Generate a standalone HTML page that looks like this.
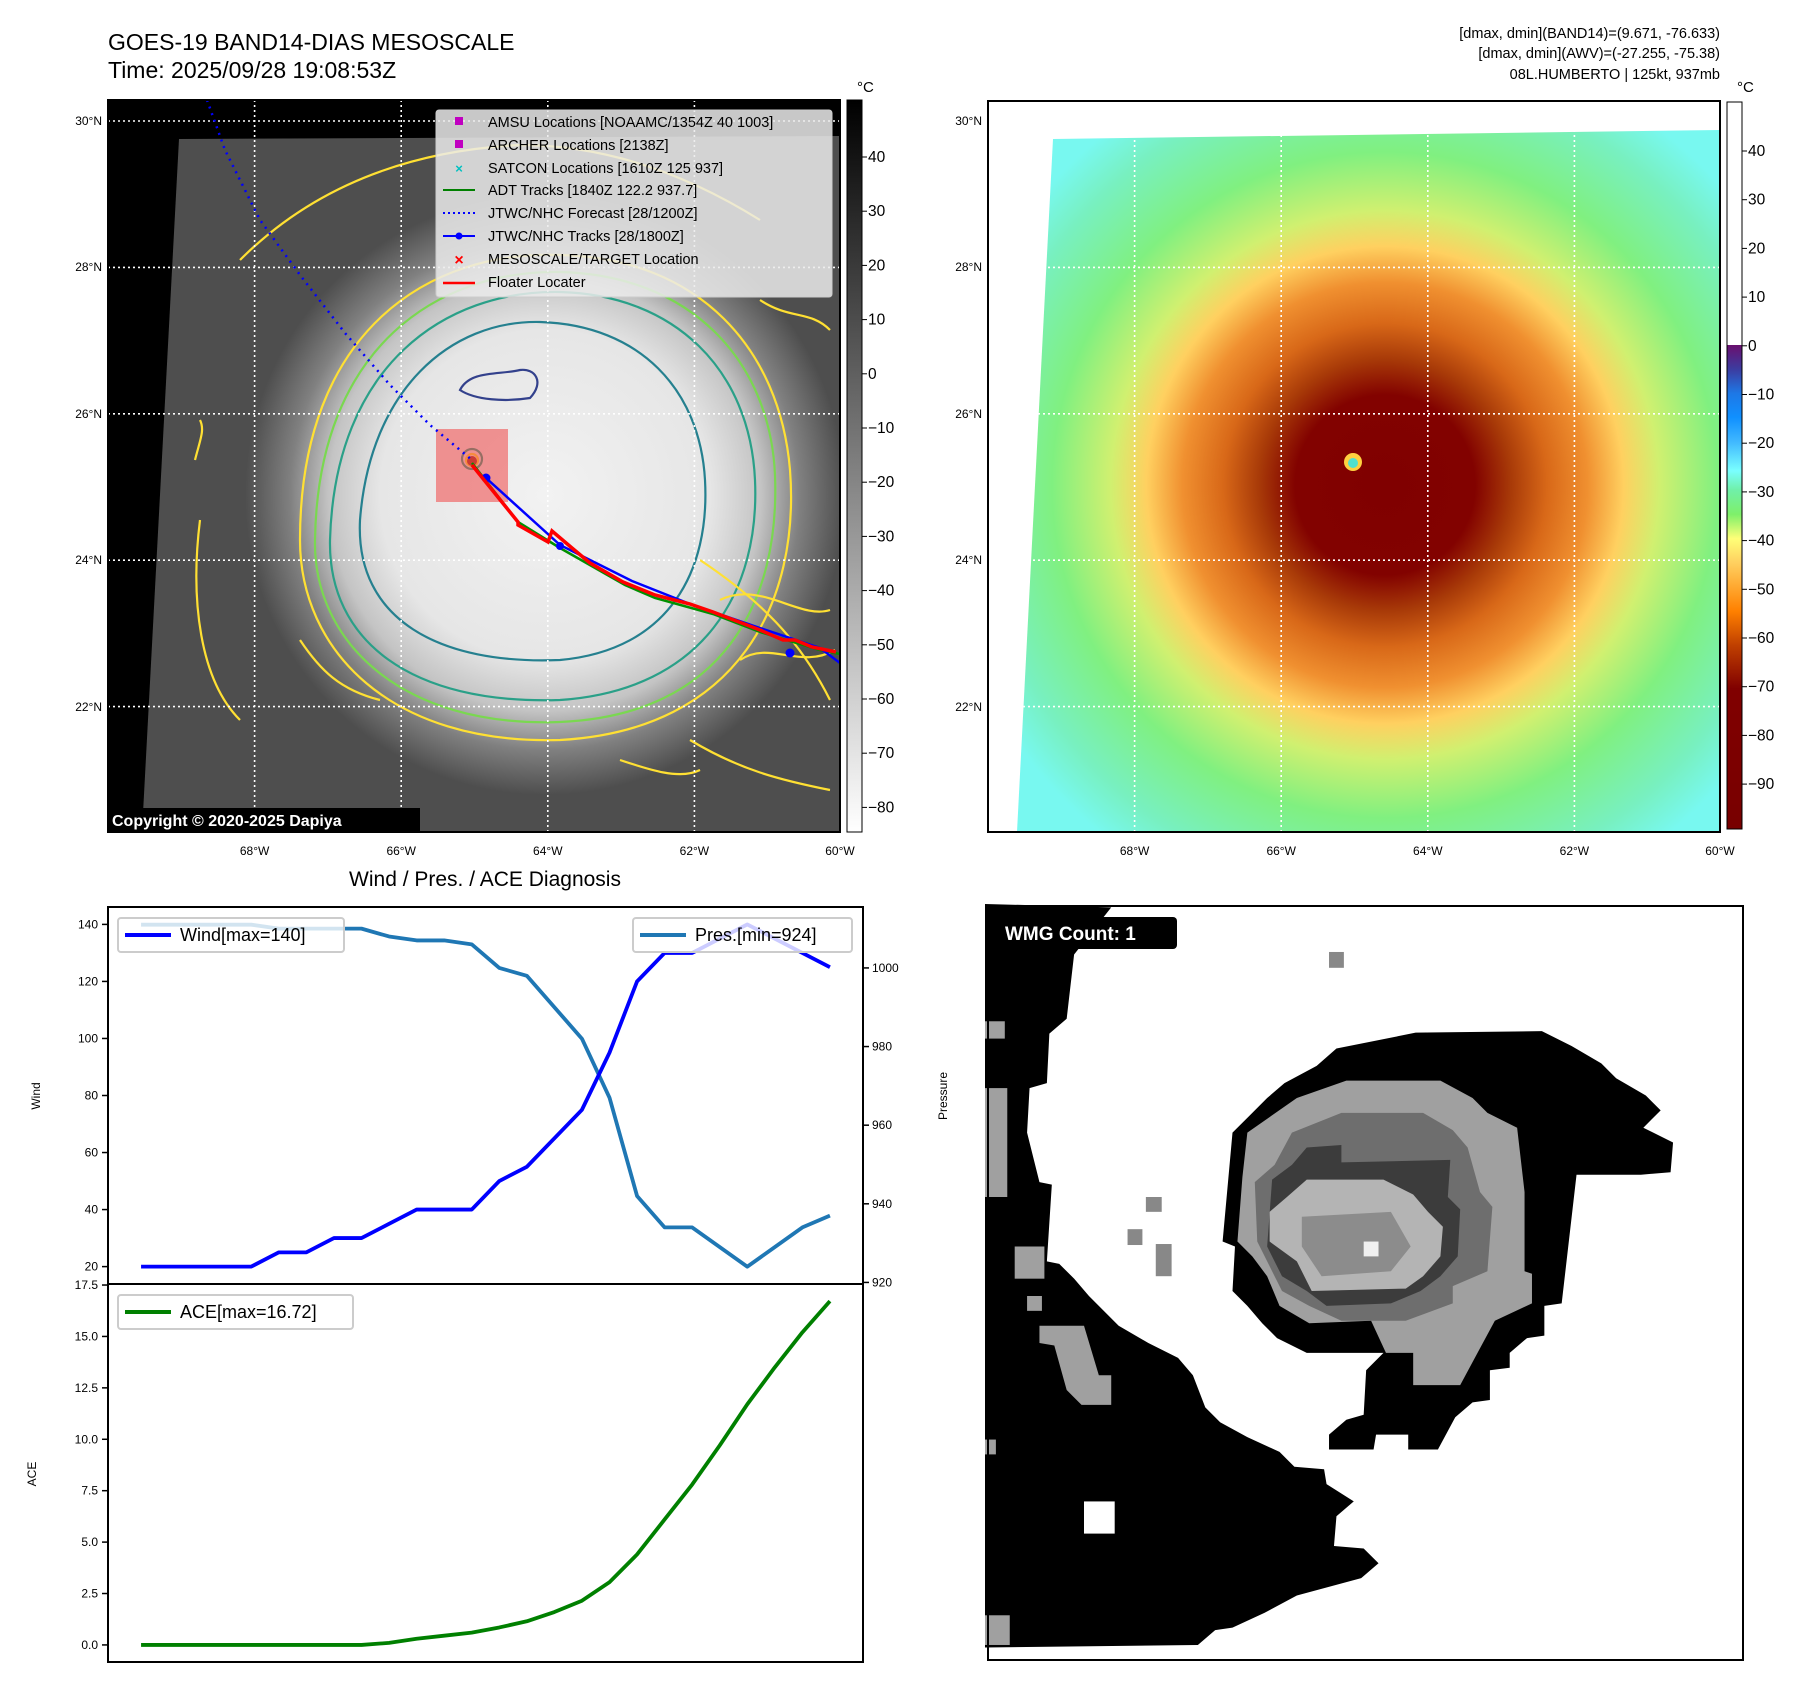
<!DOCTYPE html>
<html><head><meta charset="utf-8"><style>
html,body{margin:0;padding:0;background:#fff;}
svg{display:block;font-family:"Liberation Sans","DejaVu Sans",sans-serif;}
</style></head><body>
<svg id="root" xmlns="http://www.w3.org/2000/svg" width="1801" height="1690" viewBox="0 0 1801 1690">
<defs>
  <radialGradient id="cloudGray" cx="545" cy="495" r="300" gradientUnits="userSpaceOnUse">
    <stop offset="0" stop-color="#f2f2f2"/><stop offset="0.55" stop-color="#e6e6e6"/>
    <stop offset="0.72" stop-color="#c4c4c4"/><stop offset="0.85" stop-color="#808080"/>
    <stop offset="1" stop-color="#4e4e4e"/>
  </radialGradient>
  <radialGradient id="cloudColor" cx="1385" cy="485" r="450" gradientUnits="userSpaceOnUse">
    <stop offset="0" stop-color="#800000"/><stop offset="0.2" stop-color="#820200"/>
    <stop offset="0.28" stop-color="#a83a08"/><stop offset="0.36" stop-color="#d86818"/>
    <stop offset="0.45" stop-color="#f09030"/><stop offset="0.53" stop-color="#ffd060"/>
    <stop offset="0.61" stop-color="#d0f070"/><stop offset="0.74" stop-color="#80f080"/>
    <stop offset="0.9" stop-color="#78f0c0"/><stop offset="1" stop-color="#78f8f0"/>
  </radialGradient>
  <linearGradient id="grayBar" x1="0" y1="0" x2="0" y2="1">
    <stop offset="0" stop-color="#000"/><stop offset="1" stop-color="#fff"/>
  </linearGradient>
  <linearGradient id="colBar" x1="0" y1="345" x2="0" y2="829" gradientUnits="userSpaceOnUse">
    <stop offset="0" stop-color="#6a0f6e"/><stop offset="0.05" stop-color="#3c3ca0"/>
    <stop offset="0.1" stop-color="#1e78e6"/><stop offset="0.15" stop-color="#1090ff"/>
    <stop offset="0.2" stop-color="#40b8ff"/><stop offset="0.26" stop-color="#7affff"/>
    <stop offset="0.3" stop-color="#70f0a8"/><stop offset="0.35" stop-color="#7ef06a"/>
    <stop offset="0.4" stop-color="#ffff78"/><stop offset="0.45" stop-color="#ffd060"/>
    <stop offset="0.55" stop-color="#ff8000"/><stop offset="0.62" stop-color="#c04000"/>
    <stop offset="0.71" stop-color="#800000"/><stop offset="1" stop-color="#780000"/>
  </linearGradient>
</defs>

<text x="108" y="50" font-size="23">GOES-19 BAND14-DIAS MESOSCALE</text>
<text x="108" y="78" font-size="23">Time: 2025/09/28 19:08:53Z</text>
<g font-size="14.5" text-anchor="end">
  <text x="1720" y="38">[dmax, dmin](BAND14)=(9.671, -76.633)</text>
  <text x="1720" y="58">[dmax, dmin](AWV)=(-27.255, -75.38)</text>
  <text x="1720" y="79">08L.HUMBERTO | 125kt, 937mb</text>
</g>

<g>
  <clipPath id="clipL"><rect x="108" y="100" width="732" height="732"/></clipPath>
  <rect x="108" y="100" width="732" height="732" fill="#000"/>
  <g clip-path="url(#clipL)">
    <polygon points="179,139 840,136 840,832 142,832" fill="url(#cloudGray)"/>
    <g fill="none" stroke-width="2.2">
      <path d="M300,540 C300,330 430,250 560,255 C700,258 780,350 790,470 C800,600 740,730 560,740 C390,745 300,650 300,540 Z" stroke="#ffe033"/>
      <path d="M315,540 C318,345 440,270 560,272 C690,275 770,360 775,475 C780,600 725,715 560,722 C400,728 313,640 315,540 Z" stroke="#7ad850"/>
      <path d="M330,540 C335,365 445,290 560,292 C675,295 750,370 755,480 C760,590 705,690 560,700 C410,705 328,640 330,540 Z" stroke="#2aa088"/>
      <path d="M360,520 C370,390 450,320 540,322 C640,325 700,390 705,480 C710,570 670,650 560,660 C440,665 355,620 360,520 Z" stroke="#25808f"/>
      <path d="M460,390 C470,370 500,375 520,370 C535,368 545,382 530,398 C505,402 475,400 460,390 Z" stroke="#33418c"/>
      <circle cx="472" cy="459" r="10" stroke="#2aa088"/>
      <circle cx="472" cy="460" r="6" stroke="#ffe033"/>
      <path d="M240,260 C320,180 420,150 520,145 C600,145 680,170 760,220" stroke="#ffe033"/>
      <path d="M700,560 C760,600 800,640 830,700 M690,740 C740,770 780,780 830,790" stroke="#ffe033"/>
      <path d="M200,520 C190,600 200,680 240,720" stroke="#ffe033"/>
      <path d="M720,600 C760,580 800,620 830,610 M740,660 C770,640 800,670 835,650 M300,640 C320,670 340,690 380,700 M620,760 C650,770 680,780 700,770" stroke="#ffe033"/>
      <path d="M195,460 C200,440 205,430 200,420 M760,300 C790,320 810,310 830,330" stroke="#ffe033"/>
    </g>
    <circle cx="472" cy="461" r="5" fill="#a03020"/>
    <rect x="436" y="429" width="72" height="73" fill="rgba(240,70,70,0.55)"/>
    <g stroke="#fff" stroke-width="1.6" stroke-dasharray="2,3">
      <line x1="254.6" y1="100" x2="254.6" y2="832"/><line x1="401.2" y1="100" x2="401.2" y2="832"/>
      <line x1="547.8" y1="100" x2="547.8" y2="832"/><line x1="694.4" y1="100" x2="694.4" y2="832"/>
      <line x1="108" y1="121" x2="840" y2="121"/><line x1="108" y1="267.4" x2="840" y2="267.4"/>
      <line x1="108" y1="413.8" x2="840" y2="413.8"/><line x1="108" y1="560.2" x2="840" y2="560.2"/>
      <line x1="108" y1="706.6" x2="840" y2="706.6"/>
    </g>
    <polyline points="207,100 225,150 260,220 300,275 345,333 390,385 430,425 472,460" fill="none" stroke="#0000ff" stroke-width="2.5" stroke-dasharray="2,5"/>
    <polyline points="472,463 518,522 560,548 625,585 655,598 713,614 760,632 820,650 840,654" fill="none" stroke="#009000" stroke-width="2.5"/>
    <polyline points="486,478 560,545 632,581 690,604 760,628 820,648 840,663" fill="none" stroke="#0000ff" stroke-width="2.5"/>
    <circle cx="486" cy="478" r="4.5" fill="#0000ff"/><circle cx="560" cy="546" r="4" fill="#0000ff"/><circle cx="790" cy="653" r="4.5" fill="#0000ff"/>
    <polyline points="472,465 518,522 518,525 548,542 552,531 572,548 590,563 623,582 655,595 690,604 713,612 760,630 783,640 795,640 812,647 836,652" fill="none" stroke="#ff0000" stroke-width="3.5"/>
  </g>
  <rect x="108" y="100" width="732" height="732" fill="none" stroke="#000" stroke-width="2"/>
  <g>
    <rect x="436" y="110" width="396" height="187" rx="3" fill="rgba(235,235,235,0.85)" stroke="#ccc"/>
    <g font-size="14.5">
      <rect x="455" y="117" width="8" height="8" fill="#c000c0"/><text x="488" y="127">AMSU Locations [NOAAMC/1354Z 40 1003]</text>
      <rect x="455" y="140" width="8" height="8" fill="#c000c0"/><text x="488" y="150">ARCHER Locations [2138Z]</text>
      <text x="459" y="173" fill="#00c0c0" text-anchor="middle" font-weight="bold" font-size="13">×</text><text x="488" y="173">SATCON Locations [1610Z 125 937]</text>
      <line x1="443" y1="190" x2="475" y2="190" stroke="#008000" stroke-width="2"/><text x="488" y="195">ADT Tracks [1840Z 122.2 937.7]</text>
      <line x1="443" y1="213" x2="475" y2="213" stroke="#0000ff" stroke-width="2" stroke-dasharray="2,3"/><text x="488" y="218">JTWC/NHC Forecast [28/1200Z]</text>
      <line x1="443" y1="236" x2="475" y2="236" stroke="#0000ff" stroke-width="2"/><circle cx="459" cy="236" r="3.5" fill="#0000ff"/><text x="488" y="241">JTWC/NHC Tracks [28/1800Z]</text>
      <text x="459" y="265" fill="#ff0000" text-anchor="middle" font-weight="bold" font-size="16">×</text><text x="488" y="264">MESOSCALE/TARGET Location</text>
      <line x1="443" y1="283" x2="475" y2="283" stroke="#ff0000" stroke-width="2.5"/><text x="488" y="287">Floater Locater</text>
    </g>
  </g>
  <rect x="108" y="808" width="312" height="24" fill="#000"/>
  <text x="112" y="826" font-size="16" font-weight="bold" fill="#fff">Copyright © 2020-2025 Dapiya</text>
  <g font-size="12" text-anchor="end">
    <text x="102" y="125">30°N</text><text x="102" y="271">28°N</text><text x="102" y="418">26°N</text><text x="102" y="564">24°N</text><text x="102" y="711">22°N</text>
  </g>
  <g font-size="12" text-anchor="middle">
    <text x="254.6" y="855">68°W</text><text x="401.2" y="855">66°W</text><text x="547.8" y="855">64°W</text><text x="694.4" y="855">62°W</text><text x="840" y="855">60°W</text>
  </g>
  <rect x="847" y="100" width="15" height="732" fill="url(#grayBar)" stroke="#000" stroke-width="1"/>
  <text x="857" y="92" font-size="15">°C</text>
  <g id="grayTicks" font-size="15.5"></g>
</g>

<g>
  <clipPath id="clipR"><rect x="988" y="101" width="732" height="731"/></clipPath>
  <rect x="988" y="101" width="732" height="731" fill="#fff"/>
  <g clip-path="url(#clipR)">
    <polygon points="1053,139 1720,130 1720,832 1017,832" fill="url(#cloudColor)"/>
    <circle cx="1353" cy="462" r="9" fill="#ffd040"/><circle cx="1353" cy="463" r="5" fill="#50e0d0"/>
    <g stroke="#fff" stroke-width="1.6" stroke-dasharray="2,3">
      <line x1="1134.6" y1="100" x2="1134.6" y2="832"/><line x1="1281.2" y1="100" x2="1281.2" y2="832"/>
      <line x1="1427.8" y1="100" x2="1427.8" y2="832"/><line x1="1574.4" y1="100" x2="1574.4" y2="832"/>
      <line x1="988" y1="121" x2="1720" y2="121"/><line x1="988" y1="267.4" x2="1720" y2="267.4"/>
      <line x1="988" y1="413.8" x2="1720" y2="413.8"/><line x1="988" y1="560.2" x2="1720" y2="560.2"/>
      <line x1="988" y1="706.6" x2="1720" y2="706.6"/>
    </g>
  </g>
  <rect x="988" y="101" width="732" height="731" fill="none" stroke="#000" stroke-width="2"/>
  <g font-size="12" text-anchor="end">
    <text x="982" y="125">30°N</text><text x="982" y="271">28°N</text><text x="982" y="418">26°N</text><text x="982" y="564">24°N</text><text x="982" y="711">22°N</text>
  </g>
  <g font-size="12" text-anchor="middle">
    <text x="1134.6" y="855">68°W</text><text x="1281.2" y="855">66°W</text><text x="1427.8" y="855">64°W</text><text x="1574.4" y="855">62°W</text><text x="1720" y="855">60°W</text>
  </g>
  <rect x="1727" y="102" width="15" height="243" fill="#fff"/>
  <rect x="1727" y="345" width="15" height="484" fill="url(#colBar)"/>
  <rect x="1727" y="102" width="15" height="727" fill="none" stroke="#000" stroke-width="1"/>
  <text x="1737" y="92" font-size="15">°C</text>
  <g id="colTicks" font-size="15.5"></g>
</g>

<text x="485" y="886" font-size="21" text-anchor="middle">Wind / Pres. / ACE Diagnosis</text>
<g id="charts"></g>

<g>
  <rect x="988" y="906" width="755" height="754" fill="#fff"/>
  <g transform="translate(985,900) scale(0.495)">
    <polygon fill="#000" points="0,8 255,15 180,110 165,240 130,270 125,370 90,380 85,470 110,570 135,575 125,730 150,735 180,765 210,800 240,830 270,860 330,895 390,925 420,960 445,1025 475,1055 530,1085 595,1115 625,1145 685,1150 690,1180 745,1215 710,1245 705,1305 765,1310 795,1340 760,1370 630,1405 565,1440 500,1470 465,1475 430,1505 0,1510"/>
    <rect x="200" y="1215" width="62" height="65" fill="#fff"/>
    <g fill="#a0a0a0"><rect x="0" y="245" width="40" height="35"/><rect x="0" y="380" width="45" height="220"/><rect x="60" y="700" width="60" height="65"/><rect x="85" y="800" width="30" height="30"/><polygon points="110,860 200,860 230,960 255,960 255,1020 195,1020 165,990 140,900 110,895"/><rect x="0" y="1090" width="22" height="30"/><rect x="0" y="1445" width="50" height="60"/></g>
    <polygon fill="#000" points="480,690 500,470 535,435 570,400 605,370 670,335 710,300 870,268 1125,265 1185,295 1245,330 1275,360 1335,395 1365,425 1330,460 1390,490 1385,550 1325,555 1195,555 1165,815 1130,820 1130,880 1095,885 1060,915 1060,945 1020,950 1020,1010 985,1015 950,1045 915,1110 855,1110 855,1080 790,1080 785,1110 695,1110 695,1080 730,1050 765,1040 770,950 805,915 650,915 590,885 560,855 530,820 500,790 505,700"/>
    <polygon fill="#a0a0a0" points="530,470 630,400 730,365 920,365 985,400 1015,430 1075,460 1090,590 1090,750 1105,755 1105,815 1030,850 995,915 960,980 865,980 865,915 810,915 780,850 655,855 595,820 570,760 540,720 510,690 520,560"/>
    <polygon fill="#6e6e6e" points="620,470 720,430 885,430 945,465 975,500 1000,590 1025,620 1015,750 945,780 945,815 850,850 720,850 655,820 600,790 550,690 545,570 585,535"/>
    <polygon fill="#3c3c3c" points="650,500 720,495 720,530 940,525 935,600 960,625 955,720 920,760 880,790 820,815 690,820 650,790 600,760 570,700 580,565 620,535"/>
    <polygon fill="#b4b4b4" points="650,565 805,565 865,595 895,630 925,660 920,720 885,760 850,785 660,790 630,730 575,690 575,630 610,600"/>
    <polygon fill="#8c8c8c" points="640,640 820,630 860,700 820,750 680,760 640,700"/>
    <rect x="765" y="690" width="30" height="30" fill="#f0f0f0"/>
    <g fill="#888"><rect x="695" y="105" width="30" height="32"/><rect x="325" y="600" width="32" height="30"/><rect x="288" y="665" width="30" height="32"/><rect x="345" y="695" width="32" height="65"/></g>
  </g>
  <rect x="988" y="906" width="755" height="754" fill="none" stroke="#000" stroke-width="2"/>
  <rect x="990" y="917" width="187" height="32" rx="4" fill="#000"/>
  <text x="1005" y="940" font-size="19" font-weight="bold" fill="#fff">WMG Count: 1</text>
</g>
</svg>
<script>
const NS = "http://www.w3.org/2000/svg";
const windValues = [20,20,20,20,20,25,25,30,30,35,40,40,40,50,55,65,75,95,120,130,130,135,140,135,130,125];
const presValues = [1011,1011,1011,1011,1011,1010,1010,1010,1010,1008,1007,1007,1006,1000,998,990,982,967,942,934,934,929,924,929,934,937];
const aceValues = [0,0,0,0,0,0,0,0,0,0.1,0.3,0.45,0.6,0.85,1.15,1.6,2.15,3.05,4.4,6.1,7.8,9.7,11.7,13.5,15.2,16.72];
const windTicks = [20,40,60,80,100,120,140];
const presTicks = [920,940,960,980,1000];
const aceTicks = [0,2.5,5,7.5,10,12.5,15,17.5];
const grayBarTicks = [40,30,20,10,0,-10,-20,-30,-40,-50,-60,-70,-80];
const colorBarTicks = [40,30,20,10,0,-10,-20,-30,-40,-50,-60,-70,-80,-90];

function mk(tag, attrs, parent){const e=document.createElementNS(NS,tag);for(const k in attrs)e.setAttribute(k,attrs[k]);parent.appendChild(e);return e;}
function fmt(v){return (v<0?"\u2212":"")+Math.abs(v);}

const gT=document.getElementById('grayTicks');
const gy=v=>157+(40-v)*5.42;
grayBarTicks.forEach(v=>{mk('line',{x1:862,x2:867,y1:gy(v),y2:gy(v),stroke:'#000'},gT);const t=mk('text',{x:868,y:gy(v)+5},gT);t.textContent=fmt(v);});
const cT=document.getElementById('colTicks');
const cy=v=>151+(40-v)*4.87;
colorBarTicks.forEach(v=>{mk('line',{x1:1742,x2:1747,y1:cy(v),y2:cy(v),stroke:'#000'},cT);const t=mk('text',{x:1748,y:cy(v)+5},cT);t.textContent=fmt(v);});

const C=document.getElementById('charts');
const X0=108,X1=863, xmin=-1.2, xmax=26.2;
const xS=i=>X0+(i-xmin)/(xmax-xmin)*(X1-X0);
const T0=907,T1=1284,B0=1284,B1=1662;
const yW=v=>T1-(v-13.9)/(146.1-13.9)*(T1-T0);
const yP=v=>T1-(v-919.6)/(1015.5-919.6)*(T1-T0);
const yA=v=>B1-(v+0.83)/(17.55+0.83)*(B1-B0);
function line(vals,yf,color,name){
  const p=mk('polyline',{points:vals.map((v,i)=>xS(i)+','+yf(v)).join(' '),fill:'none',stroke:color,'stroke-width':3.8,'stroke-linejoin':'round'},C);
  
  
}
line(presValues,yP,'#1f77b4','pressure-line');
line(windValues,yW,'#0000ff','wind-line');
line(aceValues,yA,'#008000','ace-line');
mk('rect',{x:X0,y:T0,width:X1-X0,height:T1-T0,fill:'none',stroke:'#000','stroke-width':2},C);
mk('rect',{x:X0,y:B0,width:X1-X0,height:B1-B0,fill:'none',stroke:'#000','stroke-width':2},C);
windTicks.forEach(v=>{mk('line',{x1:X0-6,x2:X0,y1:yW(v),y2:yW(v),stroke:'#000','stroke-width':1.5},C);const t=mk('text',{x:X0-10,y:yW(v)+4,'font-size':12,'text-anchor':'end'},C);t.textContent=v;});
presTicks.forEach(v=>{mk('line',{x1:X1,x2:X1+6,y1:yP(v),y2:yP(v),stroke:'#000','stroke-width':1.5},C);const t=mk('text',{x:X1+9,y:yP(v)+4,'font-size':12},C);t.textContent=v;});
aceTicks.forEach(v=>{mk('line',{x1:X0-6,x2:X0,y1:yA(v),y2:yA(v),stroke:'#000','stroke-width':1.5},C);const t=mk('text',{x:X0-10,y:yA(v)+4,'font-size':12,'text-anchor':'end'},C);t.textContent=v.toFixed(1);});
const lw=mk('text',{x:40,y:1096,'font-size':12,'text-anchor':'middle',transform:'rotate(-90 40 1096)'},C);lw.textContent='Wind';
const lp=mk('text',{x:947,y:1096,'font-size':12,'text-anchor':'middle',transform:'rotate(-90 947 1096)'},C);lp.textContent='Pressure';
const la=mk('text',{x:36,y:1474,'font-size':12,'text-anchor':'middle',transform:'rotate(-90 36 1474)'},C);la.textContent='ACE';
function legend(x,y,w,color,label,name){
  const g=mk('g',{},C);
  
  
  mk('rect',{x:x,y:y,width:w,height:34,rx:3,fill:'rgba(255,255,255,0.8)',stroke:'#ccc','stroke-width':2},g);
  mk('line',{x1:x+7,x2:x+53,y1:y+17,y2:y+17,stroke:color,'stroke-width':4},g);
  const t=mk('text',{x:x+62,y:y+23,'font-size':18},g);t.textContent=label;
}
legend(118,918,226,'#0000ff','Wind[max=140]','wind-legend');
legend(633,918,219,'#1f77b4','Pres.[min=924]','pressure-legend');
legend(118,1295,235,'#008000','ACE[max=16.72]','ace-legend');
</script>
</body></html>
